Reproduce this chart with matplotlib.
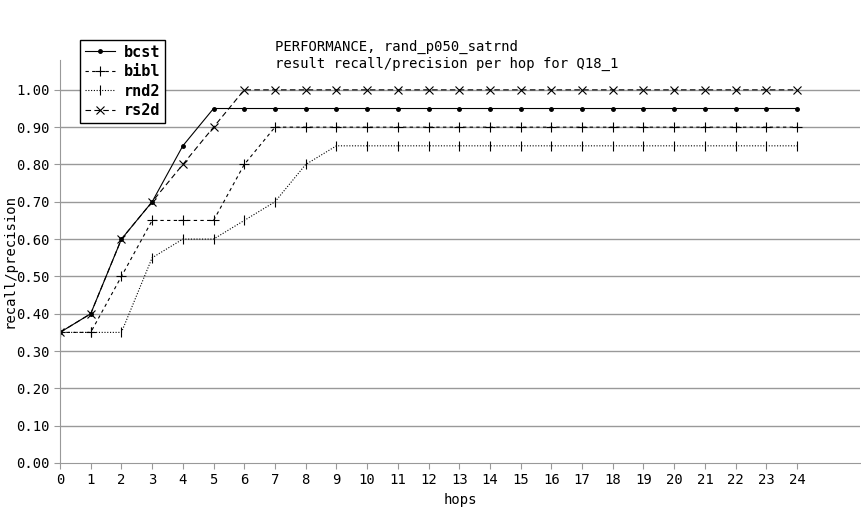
import matplotlib.pyplot as plt
import numpy as np

hops = list(range(25))
bcst = [0.35, 0.40, 0.60, 0.70, 0.85, 0.95] + [0.95] * 19
bibl = [0.35, 0.35, 0.50, 0.65, 0.65, 0.65, 0.80, 0.90] + [0.90] * 17
rnd2 = [0.35, 0.35, 0.35, 0.55, 0.60, 0.60, 0.65, 0.70, 0.80, 0.85] + [0.85] * 15
rs2d = [0.35, 0.40, 0.60, 0.70, 0.80, 0.90, 1.00] + [1.00] * 18
yticks = [0.0, 0.1, 0.2, 0.3, 0.4, 0.5, 0.6, 0.7, 0.8, 0.9, 1.0]

W, H = 862, 520
fig = plt.figure(figsize=(W / 100, H / 100), dpi=100)
ax = fig.add_axes([60 / W, (H - 463) / H, 800 / W, 403 / H])

mono = 'DejaVu Sans Mono'
lw = 0.8
ax.plot(hops, bcst, color='black', lw=lw, ls='-', marker='.', ms=5, label='bcst')
ax.plot(hops, bibl, color='black', lw=lw, ls=(0, (3, 3)), marker='+', ms=7, mew=0.8, label='bibl')
ax.plot(hops, rnd2, color='black', lw=lw, ls=(0, (1, 1.5)), marker='|', ms=7, mew=0.8, label='rnd2')
ax.plot(hops, rs2d, color='black', lw=lw, ls=(0, (5, 3)), marker='x', ms=6, mew=0.8, label='rs2d')

ax.set_xlim(0, 26.05)
ax.set_ylim(0, 1.08)
ax.set_xticks(hops)
ax.set_xticklabels([str(h) for h in hops], family=mono, fontsize=10)
ax.set_yticks(yticks)
ax.set_yticklabels(['%.2f' % v for v in yticks], family=mono, fontsize=10)
for v in yticks[1:]:
    ax.axhline(v, color='#999999', lw=1, zorder=0)

for s in ['top', 'right']:
    ax.spines[s].set_visible(False)
for s in ['left', 'bottom']:
    ax.spines[s].set_color('#999999')
ax.tick_params(colors='#999999', labelcolor='black', length=4, direction='out')

ax.set_xlabel('hops', family=mono, fontsize=10)
ax.set_ylabel('recall/precision', family=mono, fontsize=10, labelpad=0)

fig.text(275 / W, 1 - 47 / H, 'PERFORMANCE, rand_p050_satrnd', family=mono, fontsize=10, va='center')
fig.text(275 / W, 1 - 64 / H, 'result recall/precision per hop for Q18_1', family=mono, fontsize=10, va='center')

leg = ax.legend(loc='upper left', bbox_to_anchor=(80 / W, 1 - 40 / H), bbox_transform=fig.transFigure,
                prop={'family': mono, 'size': 11, 'weight': 'bold'}, fancybox=False, framealpha=1,
                borderaxespad=0, handlelength=2, borderpad=0.3, labelspacing=0.3, handletextpad=0.6)
leg.get_frame().set_edgecolor('black')
leg.get_frame().set_linewidth(1)

fig.savefig('out.png', dpi=100)
